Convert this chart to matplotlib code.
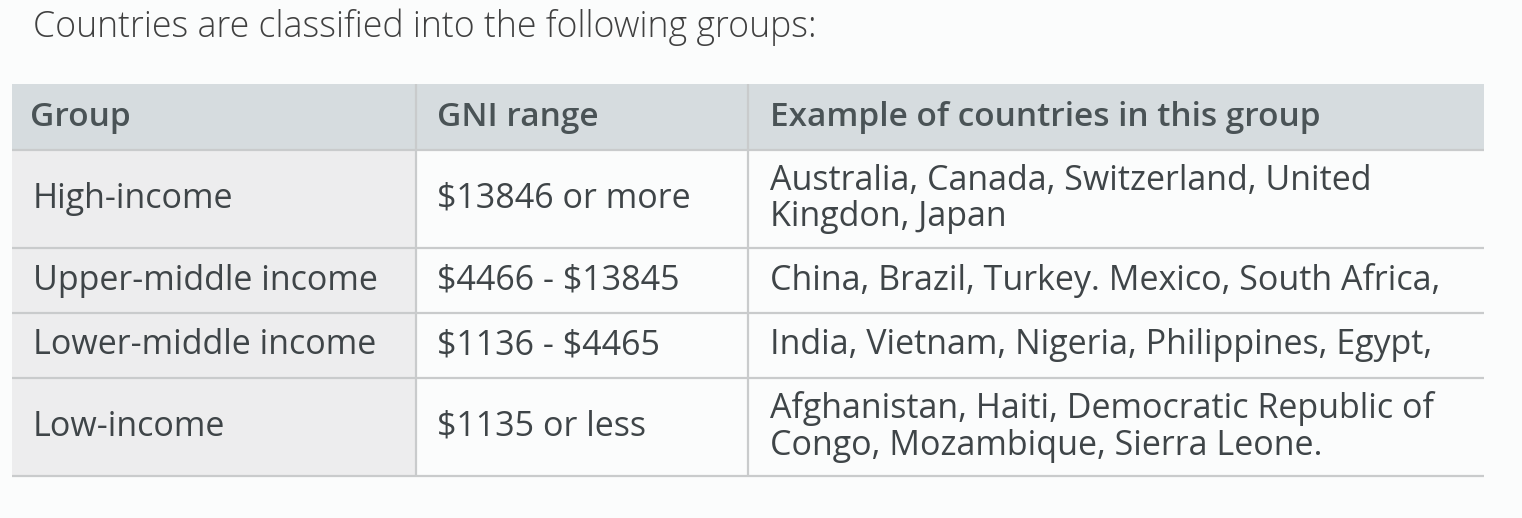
import matplotlib.pyplot as plt
from matplotlib.patches import Rectangle

title = "Countries are classified into the following groups:"
headers = ["Group", "GNI range", "Example of countries in this group"]
groups = ["High-income", "Upper-middle income", "Lower-middle income", "Low-income"]
gni_ranges = ["$13846 or more", "$4466 - $13845", "$1136 - $4465", "$1135 or less"]
examples = [
    "Australia, Canada, Switzerland, United\nKingdon, Japan",
    "China, Brazil, Turkey. Mexico, South Africa,",
    "India, Vietnam, Nigeria, Philippines, Egypt,",
    "Afghanistan, Haiti, Democratic Republic of\nCongo, Mozambique, Sierra Leone.",
]

W, H = 1522, 518
col_edges = [12, 416, 748, 1484]
row_edges = [84, 150, 248, 313, 378, 476]
text_x = [33, 437, 770]

bg = "#fbfcfc"
head_bg = "#d6dcdf"
first_col_bg = "#ededee"
line_col = "#c9cbcc"
txt_col = "#3f4548"
head_txt = "#4a5356"

plt.rcParams['font.family'] = ['Open Sans', 'DejaVu Sans']
plt.rcParams['text.parse_math'] = False

fig = plt.figure(figsize=(W / 100, H / 100), dpi=100, facecolor=bg)
ax = fig.add_axes([0, 0, 1, 1])
ax.set_xlim(0, W)
ax.set_ylim(H, 0)
ax.axis('off')

ax.text(33, 27, title, fontsize=25.7, color="#404040", va='center', ha='left',
        fontweight='light')

# header band
ax.add_patch(Rectangle((col_edges[0], row_edges[0]), col_edges[-1] - col_edges[0],
                       row_edges[1] - row_edges[0], facecolor=head_bg, edgecolor='none'))
# first column body
ax.add_patch(Rectangle((col_edges[0], row_edges[1]), col_edges[1] - col_edges[0],
                       row_edges[-1] - row_edges[1], facecolor=first_col_bg, edgecolor='none'))

# grid lines
for y in row_edges[1:]:
    ax.plot([col_edges[0], col_edges[-1]], [y, y], color=line_col, lw=1.6, solid_capstyle='butt')
for x in col_edges[1:-1]:
    ax.plot([x, x], [row_edges[0], row_edges[-1]], color=line_col, lw=1.6, solid_capstyle='butt')

for j, h in enumerate(headers):
    ax.text(text_x[j] - (3 if j == 0 else 0), (row_edges[0] + row_edges[1]) / 2 + 1, h,
            fontsize=24, fontweight='semibold', color=head_txt, va='center', ha='left')

for i in range(len(groups)):
    yc = (row_edges[i + 1] + row_edges[i + 2]) / 2
    for j, val in enumerate([groups[i], gni_ranges[i], examples[i]]):
        ax.text(text_x[j], yc, val, fontsize=24.5, color=txt_col, va='center', ha='left',
                linespacing=1.1)

fig.savefig("out.png", dpi=100, facecolor=bg)
